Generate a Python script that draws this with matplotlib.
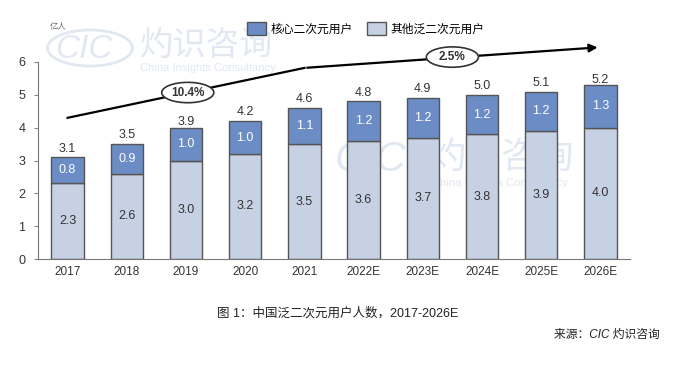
import matplotlib.pyplot as plt
from matplotlib.patches import Ellipse

plt.rcParams['font.family'] = ['Liberation Sans', 'Noto Sans CJK SC', 'DejaVu Sans']

years = ['2017', '2018', '2019', '2020', '2021', '2022E', '2023E', '2024E', '2025E', '2026E']
other_users = [2.3, 2.6, 3.0, 3.2, 3.5, 3.6, 3.7, 3.8, 3.9, 4.0]
core_users = [0.8, 0.9, 1.0, 1.0, 1.1, 1.2, 1.2, 1.2, 1.2, 1.3]
totals = [3.1, 3.5, 3.9, 4.2, 4.6, 4.8, 4.9, 5.0, 5.1, 5.2]

# CAGR arrow: 2017 -> 2021 -> 2026E
cagr_x = [0, 4, 9]
cagr_y = [4.3, 5.82, 6.45]
cagr_labels = ['10.4%', '2.5%']
cagr_label_pos = [(2.03, 5.07), (6.5, 6.15)]

core_color = '#6b8cc4'
other_color = '#c6d1e4'
edge = '#555555'
text_color = '#333333'

fig = plt.figure(figsize=(7, 3.66), dpi=100)
ax = fig.add_axes([38 / 700, 1 - 259 / 366, 592 / 700, 197 / 366])

# watermarks
wm = '#e1e8f2'
fig.text(55 / 700, 1 - 50 / 366, 'CIC', fontsize=24, color=wm, style='italic', va='center', zorder=0)
fig.patches.append(Ellipse((90 / 700, 1 - 48 / 366), 85 / 700, 36 / 366, transform=fig.transFigure,
                           fill=False, ec=wm, lw=2, zorder=0))
fig.text(140 / 700, 1 - 45 / 366, '灼识咨询', fontsize=24, color=wm, va='center', zorder=0,
         family=['Noto Sans CJK SC'])
fig.text(140 / 700, 1 - 68 / 366, 'China Insights Consultancy', fontsize=8, color=wm, va='center', zorder=0)
fig.text(335 / 700, 1 - 160 / 366, 'CIC', fontsize=30, color=wm, style='italic', va='center', zorder=0)
fig.text(430 / 700, 1 - 158 / 366, '灼识咨询', fontsize=26, color=wm, va='center', zorder=0,
         family=['Noto Sans CJK SC'])
fig.text(432 / 700, 1 - 183 / 366, 'China Insights Consultancy', fontsize=8, color=wm, va='center', zorder=0)
ax.set_zorder(1)
ax.patch.set_alpha(0)

x = range(len(years))
w = 0.55
ax.bar(x, other_users, w, color=other_color, edgecolor=edge, linewidth=1, label='其他泛二次元用户')
ax.bar(x, core_users, w, bottom=other_users, color=core_color, edgecolor=edge, linewidth=1,
       label='核心二次元用户')

for i in x:
    ax.text(i, other_users[i] / 2, f'{other_users[i]:.1f}', ha='center', va='center',
            fontsize=9, color=text_color)
    ax.text(i, other_users[i] + core_users[i] / 2, f'{core_users[i]:.1f}', ha='center', va='center',
            fontsize=9, color='white')
    ax.text(i, totals[i] + 0.08, f'{totals[i]:.1f}', ha='center', va='bottom',
            fontsize=9, color=text_color)

# CAGR arrow
ax.plot(cagr_x[:2], cagr_y[:2], color='black', lw=1.6, clip_on=False)
ax.annotate('', xy=(cagr_x[2], cagr_y[2]), xytext=(cagr_x[1], cagr_y[1]),
            arrowprops=dict(arrowstyle='-|>', color='black', lw=1.6, mutation_scale=12),
            annotation_clip=False)
for lab, (lx, ly) in zip(cagr_labels, cagr_label_pos):
    ax.add_patch(Ellipse((lx, ly), 0.88, 0.62, fc='white', ec='#333333', lw=1.2,
                         clip_on=False, zorder=3))
    ax.text(lx, ly, lab, ha='center', va='center', fontsize=8.5, fontweight='bold', color=text_color,
            clip_on=False, zorder=4)

ax.set_xlim(-0.5, 9.5)
ax.set_ylim(0, 6)
ax.set_yticks(range(7))
ax.set_xticks(list(x))
ax.set_xticklabels(years)
ax.tick_params(axis='x', length=0, labelsize=8.5, colors=text_color, pad=5)
ax.tick_params(axis='y', length=3, labelsize=9, colors=text_color, color='#888888', pad=6)
for s in ['top', 'right']:
    ax.spines[s].set_visible(False)
ax.spines['left'].set_color('#777777')
ax.spines['bottom'].set_color('#777777')

fig.text(50 / 700, 1 - 27 / 366, '亿人', fontsize=6, color='#666666', va='center')

handles, labels = ax.get_legend_handles_labels()
fig.legend(handles[::-1], labels[::-1], loc='center', bbox_to_anchor=(366 / 700, 1 - 29 / 366),
           ncol=2, frameon=False, fontsize=8.5, handlelength=1.6, handleheight=1.2,
           columnspacing=1.2, handletextpad=0.4)

fig.text(338 / 700, 1 - 313 / 366, '图 1：中国泛二次元用户人数，2017-2026E', ha='center', va='center',
         fontsize=9, color='#222222')
fig.text(660 / 700, 1 - 335 / 366, '来源：CIC 灼识咨询', ha='right', va='center',
         fontsize=8.5, color='#222222', style='italic')

fig.savefig('out.png', dpi=100)
